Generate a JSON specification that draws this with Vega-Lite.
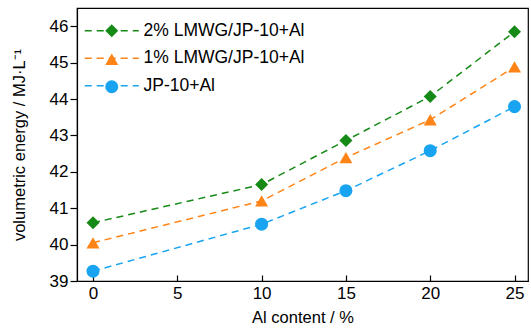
{
  "$schema": "https://vega.github.io/schema/vega-lite/v6.json",
  "width": 451,
  "height": 273,
  "autosize": {"type": "none"},
  "padding": {"left": 77, "top": 8, "right": 3, "bottom": 47},
  "background": "white",
  "config": {
    "font": "Liberation Sans",
    "view": {"stroke": "black", "strokeWidth": 1.2},
    "axis": {"grid": false, "domainColor": "black", "tickColor": "black", "labelColor": "black", "titleColor": "black", "labelFont": "Liberation Sans", "titleFont": "Liberation Sans", "labelFontSize": 17, "titleFontSize": 16.5, "titleFontWeight": "normal", "domainWidth": 1.2, "tickWidth": 1.2},
    "legend": {"labelLimit": 400}
  },
  "data": {
    "values": [
      {"al": 0, "e": 40.60, "series": "2% LMWG/JP-10+Al"},
      {"al": 10, "e": 41.65, "series": "2% LMWG/JP-10+Al"},
      {"al": 15, "e": 42.86, "series": "2% LMWG/JP-10+Al"},
      {"al": 20, "e": 44.07, "series": "2% LMWG/JP-10+Al"},
      {"al": 25, "e": 45.85, "series": "2% LMWG/JP-10+Al"},
      {"al": 0, "e": 40.05, "series": "1% LMWG/JP-10+Al"},
      {"al": 10, "e": 41.20, "series": "1% LMWG/JP-10+Al"},
      {"al": 15, "e": 42.39, "series": "1% LMWG/JP-10+Al"},
      {"al": 20, "e": 43.43, "series": "1% LMWG/JP-10+Al"},
      {"al": 25, "e": 44.88, "series": "1% LMWG/JP-10+Al"},
      {"al": 0, "e": 39.27, "series": "JP-10+Al"},
      {"al": 10, "e": 40.56, "series": "JP-10+Al"},
      {"al": 15, "e": 41.48, "series": "JP-10+Al"},
      {"al": 20, "e": 42.58, "series": "JP-10+Al"},
      {"al": 25, "e": 43.79, "series": "JP-10+Al"}
    ]
  },
  "encoding": {
    "x": {"field": "al", "type": "quantitative", "scale": {"domain": [-0.95, 25.8], "nice": false, "zero": false},
      "axis": {"values": [0, 5, 10, 15, 20, 25], "title": "Al content / %", "tickSize": -6, "labelPadding": 10, "titlePadding": 8, "labelFlush": false}},
    "y": {"field": "e", "type": "quantitative", "scale": {"domain": [39, 46.5], "nice": false, "zero": false},
      "axis": {"values": [39, 40, 41, 42, 43, 44, 45, 46], "title": "volumetric energy / MJ·L⁻¹", "tickSize": 7, "labelPadding": 2, "titlePadding": 22, "labelFlush": false}}
  },
  "layer": [
    {
      "mark": {"type": "line", "strokeDash": [7, 5], "strokeWidth": 1.5},
      "encoding": {
        "color": {"field": "series", "type": "nominal",
          "scale": {"domain": ["2% LMWG/JP-10+Al", "1% LMWG/JP-10+Al", "JP-10+Al"], "range": ["#168a16", "#ff8417", "#18a4f0"]},
          "legend": {"title": null, "orient": "none", "legendX": 26, "legendY": 14, "padding": 0, "symbolType": "M-4.41,0H4.41", "symbolSize": 150, "symbolStrokeWidth": 1.5, "symbolDash": [7, 5], "symbolFillColor": "transparent", "labelFontSize": 17.5, "labelFont": "Liberation Sans", "labelColor": "black", "labelOffset": 23, "rowPadding": 8.5}
        }
      }
    },
    {
      "mark": {"type": "point", "filled": true, "opacity": 1},
      "encoding": {
        "color": {"field": "series", "type": "nominal",
          "scale": {"domain": ["2% LMWG/JP-10+Al", "1% LMWG/JP-10+Al", "JP-10+Al"], "range": ["#168a16", "#ff8417", "#18a4f0"]},
          "legend": {"title": null, "orient": "none", "legendX": 26, "legendY": 14, "padding": 0, "symbolSize": 140, "symbolOpacity": 1, "labelExpr": "''", "labelFontSize": 17.5, "labelOffset": 2, "rowPadding": 8.5}
        },
        "shape": {"field": "series", "type": "nominal",
          "scale": {"domain": ["2% LMWG/JP-10+Al", "1% LMWG/JP-10+Al", "JP-10+Al"], "range": ["diamond", "triangle-up", "circle"]},
          "legend": {"title": null, "orient": "none", "legendX": 26, "legendY": 14, "padding": 0, "symbolSize": 140, "labelExpr": "''", "labelFontSize": 17.5, "labelOffset": 2, "rowPadding": 8.5}
        },
        "size": {"field": "series", "type": "nominal", "legend": null,
          "scale": {"domain": ["2% LMWG/JP-10+Al", "1% LMWG/JP-10+Al", "JP-10+Al"], "range": [170, 170, 120]}}
      }
    }
  ],
  "resolve": {"scale": {"color": "independent", "shape": "independent", "size": "independent"}, "legend": {"color": "independent", "shape": "independent", "size": "independent"}}
}
